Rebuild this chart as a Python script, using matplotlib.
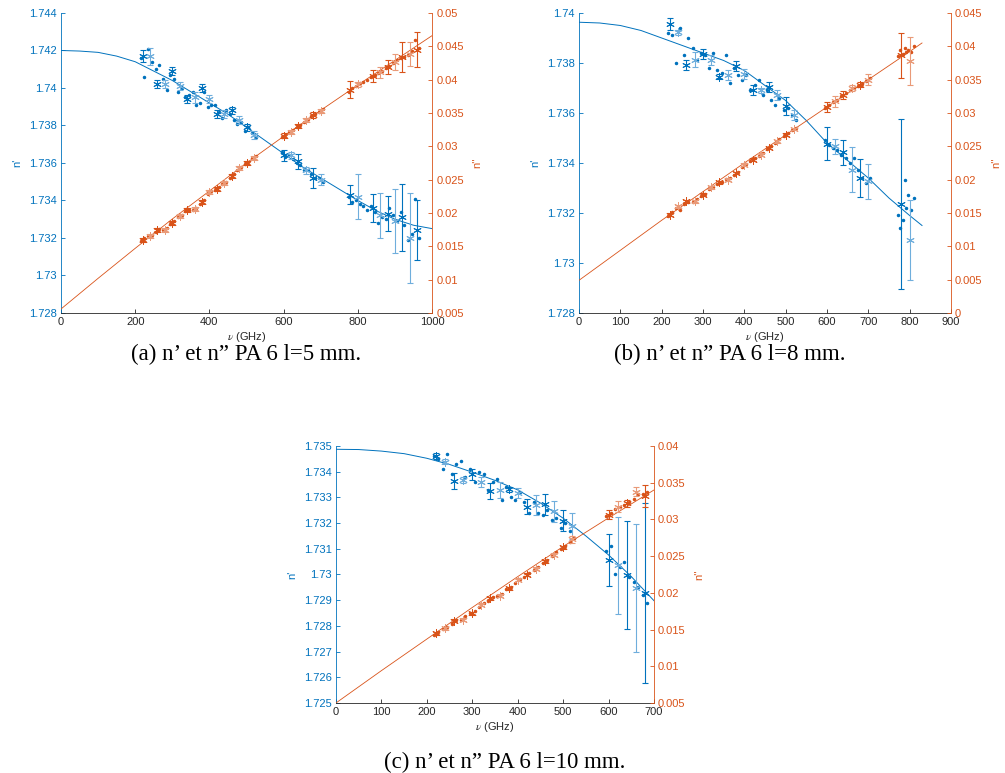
import numpy as np
import matplotlib
matplotlib.use("Agg")
import matplotlib.pyplot as plt
from matplotlib.ticker import FuncFormatter

plt.rcParams['font.family'] = ['Liberation Sans', 'DejaVu Sans']
plt.rcParams['mathtext.fontset'] = 'stix'

# colours (MATLAB default order)
BLUE = '#0072BD'
BLUE_L = '#6FAEDC'
ORANGE = '#D95319'
ORANGE_L = '#E99A78'
GREY = '#262626'

# ---------------- panel (a) : l = 5 mm ----------------
nu_curve_a = [0, 50, 100, 150, 200, 250, 300, 350, 400, 450, 500, 550, 600, 650, 700,
              750, 800, 850, 900, 950, 1000]
np_curve_a = [1.7420, 1.74197, 1.7419, 1.7417, 1.7414, 1.7409, 1.7404, 1.7398, 1.7392,
              1.7386, 1.7379, 1.7372, 1.7365, 1.7358, 1.7352, 1.7346, 1.7340, 1.73345,
              1.7330, 1.73268, 1.7325]
nu_line_a = [0, 100, 200, 300, 400, 500, 600, 700, 800, 900, 1000]
npp_line_a = [0.0056, 0.0102, 0.0147, 0.0191, 0.0233, 0.0275, 0.0315, 0.0354, 0.0392,
              0.0429, 0.0466]

nu_star_a = [220, 240, 260, 280, 300, 320, 340, 360, 380, 400, 420, 440, 460, 480, 500, 520,
             600, 620, 640, 660, 680, 700, 780, 800, 840, 860, 880, 900, 920, 940, 960]
np_star_a = [1.7417, 1.7417, 1.7402, 1.7402, 1.7409, 1.7401, 1.7394, 1.7395, 1.7400, 1.7394,
             1.7386, 1.7386, 1.7388, 1.7383, 1.7379, 1.7375, 1.7364, 1.7364, 1.7361, 1.7356,
             1.7352, 1.7351, 1.7343, 1.7342, 1.7336, 1.7332, 1.7333, 1.7329, 1.7331, 1.7320,
             1.7324]
np_err_a = [0.0003, 0.00045, 0.0002, 0.0002, 0.0002, 0.0002, 0.0002, 0.0003, 0.0002, 0.0002,
            0.0002, 0.0002, 0.0002, 0.0002, 0.0002, 0.0002, 0.0003, 0.0002, 0.0004, 0.0002,
            0.00055, 0.0003, 0.0005, 0.0012, 0.00077, 0.0012, 0.00095, 0.0017, 0.0018, 0.0024,
            0.0016]
npp_star_a = [0.0160, 0.0166, 0.0175, 0.0174, 0.0185, 0.0196, 0.0204, 0.0206, 0.0217, 0.0232,
              0.0236, 0.0245, 0.0256, 0.0267, 0.0275, 0.0283, 0.0316, 0.0322, 0.0330, 0.0339,
              0.0347, 0.0353, 0.0385, 0.0393, 0.0405, 0.0411, 0.0419, 0.0427, 0.0434, 0.0438,
              0.0445]
npp_err_a = [0.0003, 0.0003, 0.0003, 0.0003, 0.0003, 0.0003, 0.0003, 0.0003, 0.0003, 0.0003,
             0.0003, 0.0003, 0.0003, 0.0003, 0.0003, 0.0003, 0.0004, 0.0003, 0.0003, 0.0003,
             0.0004, 0.0003, 0.00125, 0.0004, 0.0009, 0.0008, 0.0010, 0.0012, 0.0023, 0.0018,
             0.0026]

nu_dot_a = [215, 225, 235, 245, 255, 265, 275, 285, 295, 305, 315, 325, 335, 345, 355, 365,
            375, 385, 395, 405, 415, 425, 435, 445, 455, 465, 475, 485, 495, 505, 515, 525,
            595, 605, 615, 625, 635, 645, 655, 665, 675, 685, 695, 705,
            775, 785, 795, 805, 815, 825, 835, 845, 855, 865, 875, 885, 895, 905, 915, 925,
            935, 945, 955, 965]
np_dot_a = [1.7416, 1.7406, 1.7421, 1.7414, 1.7410, 1.7412, 1.7405, 1.7399, 1.7407, 1.7405,
            1.7398, 1.7400, 1.7395, 1.7396, 1.7398, 1.7391, 1.7392, 1.7398, 1.7390, 1.7391,
            1.7391, 1.7387, 1.7384, 1.7388, 1.7386, 1.7383, 1.7381, 1.7382, 1.7377, 1.7379,
            1.7376, 1.7374,
            1.7366, 1.7363, 1.7364, 1.7362, 1.7360, 1.7359, 1.7356, 1.7356, 1.7354, 1.7352,
            1.7352, 1.7350,
            1.7342, 1.7339, 1.7340, 1.7338, 1.7337, 1.7335, 1.7337, 1.7334, 1.7328, 1.7331,
            1.7330, 1.7336, 1.7332, 1.7329, 1.7334, 1.7327, 1.7319, 1.7322, 1.7341, 1.7320]
npp_dot_a = [0.0158, 0.0163, 0.0165, 0.0167, 0.0172, 0.0176, 0.0174, 0.0178, 0.0184, 0.0188,
             0.0194, 0.0197, 0.0203, 0.0205, 0.0205, 0.0208, 0.0214, 0.0219, 0.0229, 0.0233,
             0.0235, 0.0239, 0.0244, 0.0246, 0.0253, 0.0258, 0.0264, 0.0269, 0.0273, 0.0277,
             0.0282, 0.0286,
             0.0314, 0.0317, 0.0321, 0.0324, 0.0329, 0.0332, 0.0337, 0.0341, 0.0345, 0.0348,
             0.0352, 0.0356,
             0.0382, 0.0388, 0.0391, 0.0395, 0.0396, 0.0400, 0.0404, 0.0407, 0.0410, 0.0413,
             0.0417, 0.0420, 0.0425, 0.0429, 0.0433, 0.0434, 0.0437, 0.0443, 0.0460, 0.0448]

# ---------------- panel (b) : l = 8 mm ----------------
nu_curve_b = [0, 50, 100, 150, 200, 250, 300, 350, 400, 450, 500, 550, 600, 650, 700, 750,
              800, 830]
np_curve_b = [1.73963, 1.7396, 1.7395, 1.7393, 1.7390, 1.7387, 1.7384, 1.7381, 1.7377,
              1.7371, 1.7365, 1.7357, 1.7348, 1.7341, 1.7334, 1.7326, 1.7319, 1.7315]
nu_line_b = [0, 100, 200, 300, 400, 500, 600, 700, 800, 830]
npp_line_b = [0.0049, 0.0094, 0.0139, 0.0182, 0.0225, 0.0267, 0.0309, 0.0350, 0.0392, 0.0405]

nu_star_b = [220, 240, 260, 280, 300, 320, 340, 360, 380, 400, 420, 440, 460, 480, 500, 520,
             600, 620, 640, 660, 680, 700, 780, 800]
np_star_b = [1.73956, 1.73923, 1.73791, 1.73813, 1.73836, 1.73813, 1.73744, 1.7375, 1.73787,
             1.73757, 1.73693, 1.7369, 1.73703, 1.7367, 1.73627, 1.7359, 1.73476, 1.73467,
             1.73443, 1.73373, 1.7334, 1.73327, 1.73237, 1.73093]
np_err_b = [0.00025, 0.0001, 0.0002, 0.0003, 0.0002, 0.0002, 0.0001, 0.0002, 0.0002, 0.0002,
            0.0002, 0.0001, 0.0002, 0.0002, 0.00035, 0.0002, 0.00066, 0.0003, 0.0005, 0.0009,
            0.00075, 0.0007, 0.0034, 0.0016]
npp_star_b = [0.01475, 0.0160, 0.01675, 0.01675, 0.01775, 0.01885, 0.0196, 0.0200, 0.0210,
              0.02225, 0.0230, 0.02375, 0.02475, 0.02575, 0.02675, 0.0276, 0.0309, 0.03175,
              0.03275, 0.03375, 0.03425, 0.0350, 0.03865, 0.03775]
npp_err_b = [0.0002, 0.0002, 0.0002, 0.0002, 0.0002, 0.0002, 0.0002, 0.0002, 0.0002, 0.0002,
             0.0002, 0.0002, 0.0002, 0.0002, 0.0002, 0.0002, 0.0007, 0.0008, 0.0006, 0.0004,
             0.0004, 0.0008, 0.0034, 0.0036]

nu_dot_b = [215, 225, 235, 245, 255, 265, 275, 285, 295, 305, 315, 325, 335, 345, 355, 365,
            375, 385, 395, 405, 415, 425, 435, 445, 455, 465, 475, 485, 495, 505, 515, 525,
            595, 605, 615, 625, 635, 645, 655, 665, 675, 685, 695, 705,
            772, 776, 784, 788, 792, 795, 803, 810]
np_dot_b = [1.7392, 1.7391, 1.7380, 1.7394, 1.7383, 1.7390, 1.7386, 1.7381, 1.7384, 1.7383,
            1.7378, 1.7384, 1.7377, 1.7376, 1.7383, 1.7372, 1.7378, 1.7375, 1.7373, 1.7375,
            1.7369, 1.7371, 1.7373, 1.7367, 1.7369, 1.7365, 1.7363, 1.7366, 1.7361, 1.7362,
            1.7359, 1.7357,
            1.7349, 1.7347, 1.7346, 1.7345, 1.7343, 1.7342, 1.7340, 1.7342, 1.7337, 1.7334,
            1.7332, 1.7334,
            1.7319, 1.7314, 1.7317, 1.7333, 1.7322, 1.7327, 1.7321, 1.7326]
npp_dot_b = [0.0145, 0.0151, 0.0157, 0.0155, 0.0163, 0.0167, 0.0166, 0.0171, 0.0175, 0.0178,
             0.0186, 0.0189, 0.0193, 0.0197, 0.0201, 0.0202, 0.0207, 0.0212, 0.0219, 0.0224,
             0.0228, 0.0232, 0.0236, 0.0240, 0.0246, 0.0250, 0.0255, 0.0261, 0.0266, 0.0270,
             0.0274, 0.0278,
             0.0307, 0.0312, 0.0316, 0.0320, 0.0325, 0.0330, 0.0334, 0.0337, 0.0340, 0.0343,
             0.0348, 0.0353,
             0.0386, 0.0395, 0.0388, 0.0397, 0.0392, 0.0395, 0.0392, 0.0400]

# ---------------- panel (c) : l = 10 mm ----------------
nu_curve_c = [0, 50, 100, 150, 200, 250, 300, 350, 400, 450, 500, 550, 600, 650, 700]
np_curve_c = [1.73487, 1.73486, 1.7348, 1.7347, 1.73452, 1.73428, 1.73398, 1.73366, 1.73329,
              1.73278, 1.73219, 1.7315, 1.73076, 1.72992, 1.72898]
nu_line_c = [0, 100, 200, 300, 400, 500, 600, 700]
npp_line_c = [0.0050, 0.0094, 0.0137, 0.0180, 0.0222, 0.0263, 0.0302, 0.0340]

nu_star_c = [220, 240, 260, 280, 300, 320, 340, 360, 380, 400, 420, 440, 460, 480, 500, 520,
             600, 620, 640, 660, 680]
np_star_c = [1.73461, 1.73439, 1.73364, 1.73368, 1.7339, 1.73361, 1.73325, 1.73329, 1.73332,
             1.73316, 1.73264, 1.73271, 1.73273, 1.73245, 1.73209, 1.73189, 1.73057, 1.73035,
             1.72999, 1.72947, 1.72927]
np_err_c = [0.00013, 0.0001, 0.0003, 0.00013, 0.00022, 0.0002, 0.0003, 0.0003, 0.0001, 0.0002,
            0.0003, 0.0004, 0.0004, 0.0004, 0.0004, 0.0005, 0.0010, 0.0019, 0.0021, 0.0025,
            0.0035]
npp_star_c = [0.01452, 0.0152, 0.0162, 0.01633, 0.01724, 0.01837, 0.01928, 0.0196, 0.02064,
              0.02177, 0.02245, 0.02327, 0.02427, 0.02517, 0.02622, 0.0273, 0.03062, 0.03175,
              0.0322, 0.03379, 0.0332]
npp_err_c = [0.0002, 0.0002, 0.0002, 0.0002, 0.0002, 0.0002, 0.0002, 0.0002, 0.0002, 0.0002,
             0.0002, 0.0002, 0.0002, 0.0002, 0.0002, 0.0005, 0.0006, 0.0007, 0.0005, 0.0006,
             0.0015]

nu_dot_c = [215, 225, 235, 245, 255, 265, 275, 285, 295, 305, 315, 325, 335, 345, 355, 365,
            375, 385, 395, 405, 415, 425, 435, 445, 455, 465, 475, 485, 495, 505, 515, 525,
            595, 605, 615, 625, 635, 645, 655, 665, 675, 685]
np_dot_c = [1.7346, 1.7345, 1.7341, 1.7347, 1.7339, 1.7343, 1.7344, 1.7338, 1.7341, 1.7336,
            1.7340, 1.7339, 1.7333, 1.7336, 1.7337, 1.7329, 1.7334, 1.7330, 1.7329, 1.7332,
            1.7328, 1.7324, 1.7328, 1.7324, 1.7323, 1.7325, 1.7321, 1.7322, 1.7318, 1.7320,
            1.7317, 1.7314,
            1.7309, 1.7311, 1.7300, 1.7303, 1.7305, 1.7299, 1.7297, 1.7295, 1.7292, 1.7289]
npp_dot_c = [0.0143, 0.0147, 0.0151, 0.0153, 0.0157, 0.0163, 0.0163, 0.0168, 0.0172, 0.0175,
             0.0181, 0.0186, 0.0189, 0.0194, 0.0195, 0.0199, 0.0205, 0.0208, 0.0214, 0.0219,
             0.0221, 0.0227, 0.0231, 0.0235, 0.0240, 0.0245, 0.0250, 0.0255, 0.0259, 0.0264,
             0.0269, 0.0274,
             0.0304, 0.0309, 0.0314, 0.0317, 0.0320, 0.0324, 0.0328, 0.0334, 0.0335, 0.0337]


def tick_fmt(v, pos):
    return format(round(v, 6), 'g')


def stars(ax, nu, y, err, dark, light):
    # alternate dark / light markers as in the original figure
    nu = np.asarray(nu)
    y = np.asarray(y)
    err = np.asarray(err)
    for sl, c in ((slice(0, None, 2), dark), (slice(1, None, 2), light)):
        ax.errorbar(nu[sl], y[sl], yerr=err[sl], fmt='none', ecolor=c, elinewidth=0.8,
                    capsize=2.5, capthick=0.8, zorder=3)
        ax.plot(nu[sl], y[sl], ls='none', marker=(6, 2, 0), ms=6, color=c, mew=0.7, zorder=4)


def panel(fig, rect, nu_curve, np_curve, nu_line, npp_line, nu_star, np_star, np_err,
          npp_star, npp_err, nu_dot, np_dot, npp_dot, xlim, xstep, ylim1, ystep1, ylim2, ystep2):
    ax = fig.add_axes(rect)
    ax2 = ax.twinx()

    # n' (left axis)
    ax.plot(nu_curve, np_curve, color=BLUE, lw=0.7, zorder=2)
    ax.plot(nu_dot, np_dot, ls='none', marker='.', ms=3, color=BLUE, zorder=3)
    stars(ax, nu_star, np_star, np_err, BLUE, BLUE_L)

    # n'' (right axis)
    ax2.plot(nu_line, npp_line, color=ORANGE, lw=0.6, zorder=2)
    ax2.plot(nu_dot, npp_dot, ls='none', marker='.', ms=3, color=ORANGE, zorder=3)
    stars(ax2, nu_star, npp_star, npp_err, ORANGE, ORANGE_L)

    ax.set_xlim(*xlim)
    ax.set_xticks(np.arange(xlim[0], xlim[1] + 1e-9, xstep))
    ax.set_ylim(*ylim1)
    ax.set_yticks(np.arange(ylim1[0], ylim1[1] + 1e-9, ystep1))
    ax2.set_ylim(*ylim2)
    ax2.set_yticks(np.arange(ylim2[0], ylim2[1] + 1e-9, ystep2))
    ax.yaxis.set_major_formatter(FuncFormatter(tick_fmt))
    ax2.yaxis.set_major_formatter(FuncFormatter(tick_fmt))

    for a in (ax, ax2):
        a.spines['top'].set_visible(False)
        for s in a.spines.values():
            s.set_linewidth(0.6)
    ax.spines['right'].set_visible(False)
    ax2.spines['left'].set_visible(False)
    ax2.spines['bottom'].set_visible(False)
    ax.spines['left'].set_color(BLUE)
    ax.spines['bottom'].set_color(GREY)
    ax2.spines['right'].set_color(ORANGE)

    ax.tick_params(axis='x', direction='in', length=3, width=0.6, colors=GREY, labelsize=8,
                   pad=3)
    ax.tick_params(axis='y', direction='in', length=3, width=0.6, colors=BLUE, labelsize=8,
                   pad=3)
    ax2.tick_params(axis='y', direction='in', length=3, width=0.6, colors=ORANGE, labelsize=8,
                    pad=3)

    ax.set_xlabel(r'$\nu$ (GHz)', fontsize=8, color=GREY, labelpad=2)
    ax.set_ylabel("n'", fontsize=8, color=BLUE, labelpad=5)
    ax2.set_ylabel("n''", fontsize=8, color=ORANGE, labelpad=6)
    return ax


def main():
    fig = plt.figure(figsize=(10.05, 7.73), dpi=100)

    panel(fig, [0.0607, 0.5951, 0.3692, 0.3881],
          nu_curve_a, np_curve_a, nu_line_a, npp_line_a, nu_star_a, np_star_a, np_err_a,
          npp_star_a, npp_err_a, nu_dot_a, np_dot_a, npp_dot_a,
          (0, 1000), 200, (1.728, 1.744), 0.002, (0.005, 0.05), 0.005)
    panel(fig, [0.5761, 0.5951, 0.3701, 0.3881],
          nu_curve_b, np_curve_b, nu_line_b, npp_line_b, nu_star_b, np_star_b, np_err_b,
          npp_star_b, npp_err_b, nu_dot_b, np_dot_b, npp_dot_b,
          (0, 900), 100, (1.728, 1.740), 0.002, (0.0, 0.045), 0.005)
    panel(fig, [0.3343, 0.0906, 0.3164, 0.3325],
          nu_curve_c, np_curve_c, nu_line_c, npp_line_c, nu_star_c, np_star_c, np_err_c,
          npp_star_c, npp_err_c, nu_dot_c, np_dot_c, npp_dot_c,
          (0, 700), 100, (1.725, 1.735), 0.001, (0.005, 0.04), 0.005)

    cap = dict(ha='center', va='center', fontsize=16.5,
               family=['Liberation Serif', 'DejaVu Serif'])
    fig.text(246 / 1005, 1 - 354 / 773, '(a) n\u2019 et n\u201d PA 6 l=5 mm.', **cap)
    fig.text(730 / 1005, 1 - 354 / 773, '(b) n\u2019 et n\u201d PA 6 l=8 mm.', **cap)
    fig.text(505 / 1005, 1 - 762 / 773, '(c) n\u2019 et n\u201d PA 6 l=10 mm.', **cap)

    fig.savefig('out.png', dpi=100)


if __name__ == '__main__':
    main()
